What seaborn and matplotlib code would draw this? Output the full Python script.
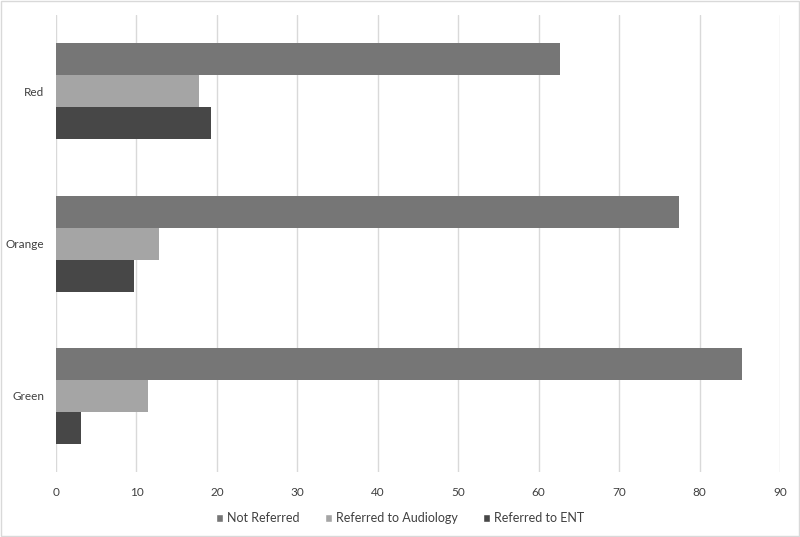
import pandas as pd
import seaborn as sns
import matplotlib.pyplot as plt
from matplotlib.patches import Patch, Rectangle

sns.set_style("white")
plt.rcParams['font.family'] = ['Lato', 'DejaVu Sans']

categories = ['Red', 'Orange', 'Green']
series = ['Not Referred', 'Referred to Audiology', 'Referred to ENT']
not_referred = [62.7, 77.4, 85.3]
audiology = [17.8, 12.8, 11.4]
ent = [19.3, 9.7, 3.1]
x_ticks = [0, 10, 20, 30, 40, 50, 60, 70, 80, 90]

colors = {'Not Referred': '#767676',
          'Referred to Audiology': '#a5a5a5',
          'Referred to ENT': '#474747'}

rows = []
for name, vals in zip(series, [not_referred, audiology, ent]):
    for cat, v in zip(categories, vals):
        rows.append({'category': cat, 'series': name, 'value': v})
df = pd.DataFrame(rows)

fig = plt.figure(figsize=(8, 5.37), dpi=100)
ax = fig.add_axes([0.07, 0.121, 0.905, 0.851])

sns.barplot(data=df, x='value', y='category', hue='series', order=categories,
            hue_order=series, palette=colors, orient='h', width=0.63,
            saturation=1, edgecolor='none', ax=ax, legend=False)

ax.set_xlim(0, 90)
ax.set_xticks(x_ticks)
ax.xaxis.grid(True, color='#d9d9d9', linewidth=1)
ax.set_axisbelow(True)
for s in ax.spines.values():
    s.set_visible(False)
ax.tick_params(axis='both', length=0, labelsize=8.5, colors='#404040')
ax.tick_params(axis='x', pad=11)
ax.tick_params(axis='y', pad=8.5)
ax.set_xlabel('')
ax.set_ylabel('')

handles = [Patch(facecolor=colors[s], label=s) for s in series]
fig.legend(handles=handles, loc='center', bbox_to_anchor=(0.5, 0.035), ncol=3,
           frameon=False, fontsize=9, handlelength=0.6, handleheight=0.6,
           handletextpad=0.3, columnspacing=2.0, labelcolor='#404040')

fig.patches.append(Rectangle((0.001, 0.001), 0.998, 0.997, transform=fig.transFigure,
                             fill=False, edgecolor='#d9d9d9', linewidth=1))

fig.savefig('out.png', dpi=100)
